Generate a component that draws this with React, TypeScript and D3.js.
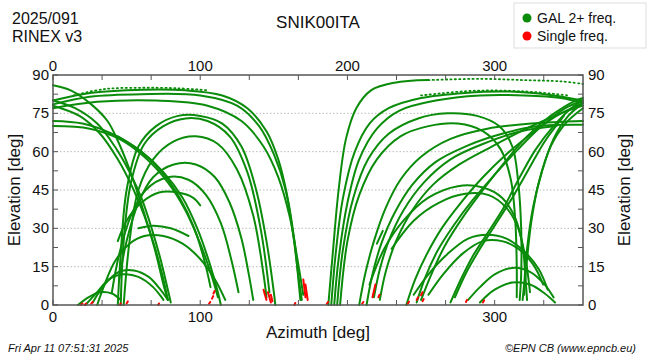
import * as d3 from "d3";

// ---- data (azimuth / elevation in degrees) ----
const azTicks = [0, 100, 200, 300];
// bottom row: the 200 label is hidden under the axis title in the original
const azBottomTicks = [0, 100, 300];
const azMinorTicks = [0, 33.33, 66.67, 100, 133.33, 166.67, 200, 233.33, 266.67, 300, 333.33];
const elTicks = [0, 15, 30, 45, 60, 75, 90];
const elMinorTicks = [7.5, 22.5, 37.5, 52.5, 67.5, 82.5];

type Pt = [number, number];

// high passes entering from the north-west, dropping near az 165
const highPasses: Pt[][] = [
  [[0, 80], [20, 82.5], [50, 84], [90, 84], [115, 82], [132, 77], [145, 68], [153, 57], [159, 43], [164, 25], [167, 8], [168, 2]],
  [[0, 78.5], [25, 81.5], [60, 82.5], [100, 82], [125, 78], [140, 70], [150, 59], [158, 45], [163, 28], [167, 10], [169, 2]],
  [[0, 77], [30, 79.5], [70, 80], [105, 78], [128, 72], [143, 62], [153, 50], [161, 34], [166, 18], [170, 4]],
  [[0, 86], [12, 84], [25, 79], [37, 72], [45, 63], [52, 53], [58, 43], [64, 32], [70, 20], [75, 8], [78, 2]],
  [[0, 80], [15, 77], [30, 71], [42, 62], [52, 52], [60, 42], [67, 30], [73, 18], [78, 6], [80, 1]],
  [[0, 78], [18, 74], [32, 67], [44, 57], [54, 46], [62, 35], [69, 23], [75, 10], [78, 2]],
  [[0, 72], [20, 71], [40, 67], [60, 60], [75, 52], [88, 42], [98, 30], [106, 17], [112, 5], [114, 0]],
  [[0, 70], [25, 69], [45, 65], [62, 58], [78, 48], [90, 37], [100, 24], [108, 11], [112, 3]],
  [[44, 66], [60, 60], [74, 52], [86, 42], [96, 30], [103, 17], [107, 7]],
];

// rising arcs on the east side
const eastDomes: Pt[][] = [
  [[44, 0], [46, 20], [50, 45], [58, 62], [70, 70], [85, 74], [100, 74], [115, 71], [128, 62], [138, 45], [145, 25], [150, 5], [151, 0]],
  [[46, 0], [48, 25], [53, 48], [62, 63], [75, 70], [90, 73], [105, 72], [120, 66], [132, 52], [141, 30], [147, 5]],
  [[48, 0], [52, 25], [58, 45], [68, 57], [82, 64], [97, 66], [112, 63], [125, 53], [136, 35], [143, 12], [145, 3]],
  [[45, 10], [50, 25], [58, 40], [68, 50], [82, 55], [97, 55], [110, 50], [120, 40], [128, 26], [133, 12], [136, 2]],
  [[40, 5], [45, 20], [53, 35], [63, 45], [78, 50], [92, 49], [104, 43], [114, 32], [121, 18], [126, 5]],
  [[44, 25], [50, 33], [60, 40], [72, 44], [85, 44], [95, 42], [100, 39]],
  [[30, 0], [35, 8], [42, 17], [52, 24], [62, 27], [75, 27], [88, 24], [100, 18], [110, 10], [117, 2]],
  [[58, 30], [68, 31], [80, 30], [92, 27]],
  [[22, 0], [30, 5], [38, 10], [48, 12], [58, 11], [68, 7], [75, 2]],
  [[27, 1], [35, 8], [45, 13], [55, 13.5], [65, 11], [73, 6], [78, 2]],
  [[17, 0], [24, 3], [32, 5], [40, 4.5], [46, 2]],
];

// tracks rising near az 190 and crossing the north
const westRisers: Pt[][] = [
  [[187, 0], [190, 20], [194, 45], [199, 65], [206, 77], [216, 84], [232, 87], [255, 88]],
  [[189, 0], [192, 20], [197, 42], [205, 60], [215, 71], [228, 77], [250, 81], [280, 83], [310, 83.5], [340, 82], [360, 80]],
  [[191, 0], [194, 18], [200, 40], [208, 57], [220, 69], [235, 76], [260, 80], [290, 82], [320, 82], [345, 81], [360, 79]],
  [[193, 0], [197, 22], [204, 42], [214, 57], [228, 67], [248, 73], [268, 75], [288, 74], [303, 70], [312, 62], [316, 48], [318, 30], [318, 12], [317, 2]],
  [[195, 0], [200, 25], [208, 43], [220, 57], [236, 66], [255, 70], [275, 71], [292, 68], [304, 61], [311, 49], [314, 33], [315, 15], [315, 3]],
  [[208, 0], [212, 12], [218, 25], [226, 38], [236, 49], [250, 58], [270, 65], [295, 69], [325, 71], [360, 72]],
  [[213, 0], [217, 12], [223, 24], [232, 36], [244, 47], [260, 56], [280, 62], [305, 67], [330, 70], [360, 70.5]],
  [[218, 3], [222, 14], [228, 25], [238, 37], [252, 48], [270, 57], [292, 63], [318, 68], [342, 70]],
  [[222, 2], [226, 13], [233, 25], [244, 37], [258, 47], [276, 55], [298, 62], [325, 70], [345, 75], [360, 78]],
  [[240, 0], [246, 10], [254, 20], [264, 30], [277, 40], [292, 50], [308, 59], [325, 67], [342, 74], [360, 79]],
  [[247, 1], [253, 11], [261, 21], [272, 31], [285, 41], [300, 51], [316, 61], [332, 70], [348, 77], [360, 80]],
  [[250, 2], [257, 12], [266, 23], [278, 34], [292, 45], [307, 56], [322, 66], [338, 74], [355, 80], [360, 81]],
  [[270, 1], [277, 10], [285, 19], [295, 28], [306, 38], [317, 50], [328, 61], [340, 70], [352, 77], [360, 80]],
  [[273, 3], [281, 13], [290, 22], [300, 31], [312, 42], [323, 53], [334, 64], [347, 74]],
  [[220, 24], [224, 29]],
];

// low arcs in the south-west quadrant
const westDomes: Pt[][] = [
  [[215, 8], [225, 22], [238, 33], [255, 42], [275, 46.5], [292, 46], [305, 42], [314, 34], [319, 23], [321, 10], [322, 2]],
  [[230, 22], [245, 33], [262, 40], [280, 43.5], [296, 43], [308, 38], [316, 30], [321, 18], [324, 5]],
  [[245, 4], [255, 12], [268, 20], [282, 26], [295, 27.5], [308, 26], [320, 21], [330, 14], [336, 6]],
  [[255, 4], [265, 12], [278, 20], [292, 25], [305, 25], [316, 22], [326, 16], [333, 8]],
  [[282, 2], [290, 7], [300, 12], [312, 14.5], [324, 13], [334, 8], [340, 3]],
  [[290, 1], [300, 6], [312, 8.8], [324, 8], [334, 4.5], [341, 1]],
  [[360, 79], [350, 74], [340, 65], [332, 52], [326, 38], [322, 22], [320, 8], [319, 2]],
  [[360, 77], [348, 71], [338, 62], [330, 48], [325, 33], [322, 18], [320, 4]],
];

// sparsely sampled passes near the zenith
const dottedPasses: Pt[][] = [
  [[255, 88], [290, 88.5], [320, 88], [345, 87.5], [360, 86.5]],
  [[14, 82], [35, 84.5], [60, 85], [85, 84.8], [105, 84]],
  [[250, 82], [285, 83.8], [320, 83.6], [350, 82]],
];

// single-frequency tails
const singleFreq: Pt[][] = [
  [[19, 0], [20, 0.6]], [[21.5, 0], [22.5, 0.6]], [[26, 0.5], [27, 1.2]], [[45.5, 0], [46, 0.6]],
  [[50, 0.6], [50.8, 1.4]], [[71.5, 0], [72, 0.6]], [[106, 0.5], [106.8, 1.2]], [[108, 2.5], [108.8, 3.5]],
  [[109, 4.5], [109.8, 5.5]], [[143, 6], [145, 2]], [[146, 5], [148, 1]], [[148, 4], [149, 1.5]],
  [[164, 0], [164.6, 0.8]], [[170, 10], [171.5, 3]], [[171.5, 8], [173, 2]], [[186, 0.5], [186.8, 1.2]],
  [[210, 0.5], [210.8, 1.2]], [[217, 3], [219, 8]], [[221, 3], [221.8, 4]], [[241, 0.5], [241.8, 1.3]],
  [[247, 2], [248, 3]], [[250, 3.8], [251, 5]], [[251, 1.5], [251.8, 2.3]], [[280.5, 1.2], [281.2, 2]],
  [[292, 1], [292.8, 1.8]],
];

const GREEN = "#0a8c0a";
const RED = "#ff0000";
const FONT = "'Liberation Sans', Arial, Helvetica, sans-serif";

export default function App() {
  const width = 650;
  const height = 360;
  const margin = { top: 75, right: 67, bottom: 55, left: 53 };
  const innerW = width - margin.left - margin.right;
  const innerH = height - margin.top - margin.bottom;

  const x = d3.scaleLinear().domain([0, 360]).range([0, innerW]);
  const y = d3.scaleLinear().domain([0, 90]).range([innerH, 0]);

  const line = d3
    .line<Pt>()
    .x((d) => x(d[0]))
    .y((d) => y(d[1]))
    .curve(d3.curveCatmullRom.alpha(0.5));

  const solid = [...highPasses, ...eastDomes, ...westRisers, ...westDomes];
  const axisColor = "#555";
  const tick = 5;

  return (
    <svg
      width={width}
      height={height}
      style={{ position: "absolute", left: 0, top: 0, background: "#fff" }}
      fontFamily={FONT}
    >
      <text x={12} y={24} fontSize={16} fill="#111">2025/091</text>
      <text x={12} y={42} fontSize={16} fill="#111">RINEX v3</text>
      <text x={318} y={28} fontSize={17} fill="#111" textAnchor="middle">SNIK00ITA</text>

      {/* legend */}
      <rect x={514} y={3} width={132} height={45} fill="#fff" stroke="#ddd" />
      <circle cx={527} cy={18} r={4.5} fill="#0a8c0a" />
      <text x={537} y={23} fontSize={14} fill="#111">GAL 2+ freq.</text>
      <circle cx={527} cy={36} r={4.5} fill={RED} />
      <text x={537} y={41} fontSize={14} fill="#111">Single freq.</text>

      <g transform={`translate(${margin.left},${margin.top})`}>
        {/* grid */}
        {elTicks.slice(1, -1).map((t) => (
          <line key={t} x1={0} x2={innerW} y1={y(t)} y2={y(t)} stroke="#bbb" strokeDasharray="1.5,2" />
        ))}

        {/* tracks */}
        <g fill="none" stroke={GREEN} strokeWidth={2} strokeLinecap="round">
          {solid.map((t, i) => (
            <path key={i} d={line(t) ?? ""} />
          ))}
          {dottedPasses.map((t, i) => (
            <path key={"d" + i} d={line(t) ?? ""} strokeWidth={1.8} strokeDasharray="1.2,3.2" />
          ))}
        </g>
        <g fill="none" stroke={RED} strokeWidth={2} strokeLinecap="round">
          {singleFreq.map((t, i) => (
            <path key={i} d={line(t) ?? ""} />
          ))}
        </g>

        {/* frame and ticks */}
        <rect x={0} y={0} width={innerW} height={innerH} fill="none" stroke={axisColor} strokeWidth={1.5} />
        {azMinorTicks.map((t) => (
          <g key={t} stroke={axisColor}>
            <line x1={x(t)} x2={x(t)} y1={0} y2={tick} />
            <line x1={x(t)} x2={x(t)} y1={innerH} y2={innerH - tick} />
          </g>
        ))}
        {[...elTicks, ...elMinorTicks].map((t) => (
          <g key={t} stroke={axisColor}>
            <line x1={0} x2={tick} y1={y(t)} y2={y(t)} />
            <line x1={innerW} x2={innerW - tick} y1={y(t)} y2={y(t)} />
          </g>
        ))}

        {/* tick labels */}
        <g fontSize={15} fill="#111">
          {azTicks.map((t) => (
            <text key={"t" + t} x={x(t)} y={-4} textAnchor="middle">{t}</text>
          ))}
          {azBottomTicks.map((t) => (
            <text key={"b" + t} x={x(t)} y={innerH + 17} textAnchor="middle">{t}</text>
          ))}
          {elTicks.map((t) => (
            <g key={t}>
              <text x={-4} y={y(t) + 5} textAnchor="end">{t}</text>
              <text x={innerW + 5} y={y(t) + 5}>{t}</text>
            </g>
          ))}
        </g>

        {/* axis titles */}
        <text x={innerW / 2} y={innerH + 33} textAnchor="middle" fontSize={17} fill="#111">Azimuth [deg]</text>
        <text transform={`translate(${-33},${innerH / 2}) rotate(-90)`} textAnchor="middle" fontSize={17} fill="#111">
          Elevation [deg]
        </text>
        <text transform={`translate(${innerW + 47},${innerH / 2}) rotate(-90)`} textAnchor="middle" fontSize={17} fill="#111">
          Elevation [deg]
        </text>
      </g>

      <text x={8} y={352} fontSize={11} fontStyle="italic" fill="#111">Fri Apr 11 07:51:31 2025</text>
      <text x={636} y={352} fontSize={11} fontStyle="italic" fill="#111" textAnchor="end">©EPN CB (www.epncb.eu)</text>
    </svg>
  );
}
